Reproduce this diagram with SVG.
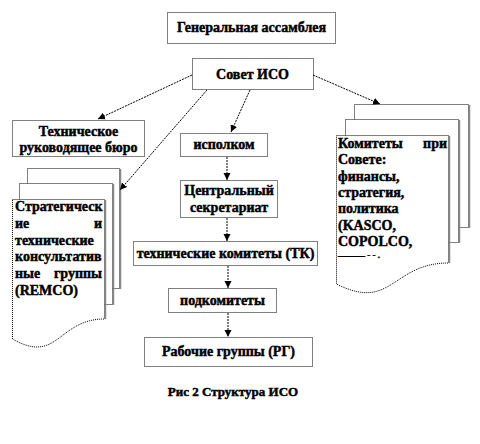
<svg xmlns="http://www.w3.org/2000/svg" width="480" height="444" viewBox="0 0 480 444">
<defs>
<marker id="ah" markerWidth="8" markerHeight="8" refX="7" refY="4" orient="auto" markerUnits="userSpaceOnUse">
<path d="M0,0.5 L7,4 L0,7.5 Z" fill="#000"/>
</marker>
<style>
.box{fill:#fff;stroke:#000;stroke-width:1;stroke-dasharray:1 1}
.page{fill:#fff;stroke:#000;stroke-width:1;stroke-dasharray:1 1}
.sh{fill:none;stroke:#888;stroke-width:1.5}
text{font-family:'Liberation Serif','Times New Roman',serif;font-weight:bold;font-size:14px;fill:#000;stroke:#000;stroke-width:0.45}
.c{text-anchor:middle}
.e{text-anchor:end}
.conn line{stroke:#000;stroke-width:1;stroke-dasharray:2 1;marker-end:url(#ah)}
</style>
</defs>
<rect width="480" height="444" fill="#fff"/>

<g id="ga">
<rect class="box" x="167.5" y="12.5" width="168" height="31"/>
<text class="c" x="251.5" y="32" font-family="Liberation Serif">Генеральная ассамблея</text>
</g>

<g id="council">
<rect class="box" x="192.5" y="58.5" width="121" height="31"/>
<text class="c" x="252.5" y="79" font-family="Liberation Serif">Совет ИСО</text>
</g>

<g id="tmb">
<rect class="box" x="12.5" y="120.5" width="132" height="36"/>
<text class="c" x="78.5" y="136">Техническое</text>
<text class="c" x="78.5" y="152">руководящее бюро</text>
</g>

<g id="remco">
<rect class="page" x="27.5" y="168.5" width="92" height="120"/>
<line class="sh" x1="120.5" y1="169" x2="120.5" y2="289"/>
<rect class="page" x="19.5" y="183.5" width="93" height="121"/>
<line class="sh" x1="113.5" y1="184" x2="113.5" y2="305"/>
<path class="page" d="M12.5,199.5 H104.5 V319 C58,319 58,365 12.5,339 Z"/>
<line class="sh" x1="105.5" y1="200" x2="105.5" y2="319"/>
<text x="15" y="211">Стратегическ</text>
<text x="15" y="228">ие</text>
<text class="e" x="102" y="228">и</text>
<text x="15" y="245">технические</text>
<text x="15" y="261">консультатив</text>
<text x="15" y="278">ные</text>
<text class="e" x="102" y="278">группы</text>
<text x="15" y="295">(REMCO)</text>
</g>

<g id="ispolkom">
<rect class="box" x="180.5" y="133.5" width="87" height="23"/>
<text class="c" x="224" y="149">исполком</text>
</g>

<g id="cs">
<rect class="box" x="180.5" y="180.5" width="97" height="37"/>
<text class="c" x="229" y="195">Центральный</text>
<text class="c" x="229" y="212">секретариат</text>
</g>

<g id="tk">
<rect class="box" x="133.5" y="241.5" width="184" height="24"/>
<text class="c" x="225.5" y="258">технические комитеты (ТК)</text>
</g>

<g id="sub">
<rect class="box" x="168.5" y="288.5" width="108" height="24"/>
<text class="c" x="222.5" y="305">подкомитеты</text>
</g>

<g id="wg">
<rect class="box" x="144.5" y="337.5" width="168" height="29"/>
<text class="c" x="228.5" y="356">Рабочие группы (РГ)</text>
</g>

<g id="committees">
<rect class="page" x="354.5" y="104.5" width="114" height="123"/>
<line class="sh" x1="469.5" y1="105" x2="469.5" y2="228"/>
<rect class="page" x="345.5" y="119.5" width="113" height="123"/>
<line class="sh" x1="459.5" y1="120" x2="459.5" y2="243"/>
<path class="page" d="M336.5,135.5 H448.5 V263 C392,263 392,312 336.5,284 Z"/>
<line class="sh" x1="449.5" y1="136" x2="449.5" y2="263"/>
<text x="338" y="148">Комитеты</text>
<text class="e" x="447" y="148">при</text>
<text x="338" y="164">Совете:</text>
<text x="338" y="181">финансы,</text>
<text x="338" y="197">стратегия,</text>
<text x="338" y="213">политика</text>
<text x="338" y="230">(KASCO,</text>
<text x="338" y="246">COPOLCO,</text>
<text x="338" y="258" style="font-size:9px">——— - - .</text>
</g>

<g id="caption">
<text class="c" x="233" y="396" style="font-size:13px">Рис 2 Структура ИСО</text>
</g>

<g class="conn" id="connectors">
<line x1="192" y1="75" x2="98" y2="119"/>
<line x1="207" y1="90" x2="120" y2="190"/>
<line x1="250" y1="90" x2="231" y2="132"/>
<line x1="313" y1="75" x2="380" y2="104"/>
<line x1="227" y1="157" x2="227" y2="180"/>
<line x1="227" y1="218" x2="227" y2="241"/>
<line x1="228" y1="266" x2="228" y2="288"/>
<line x1="228" y1="313" x2="228" y2="337"/>
</g>
</svg>
